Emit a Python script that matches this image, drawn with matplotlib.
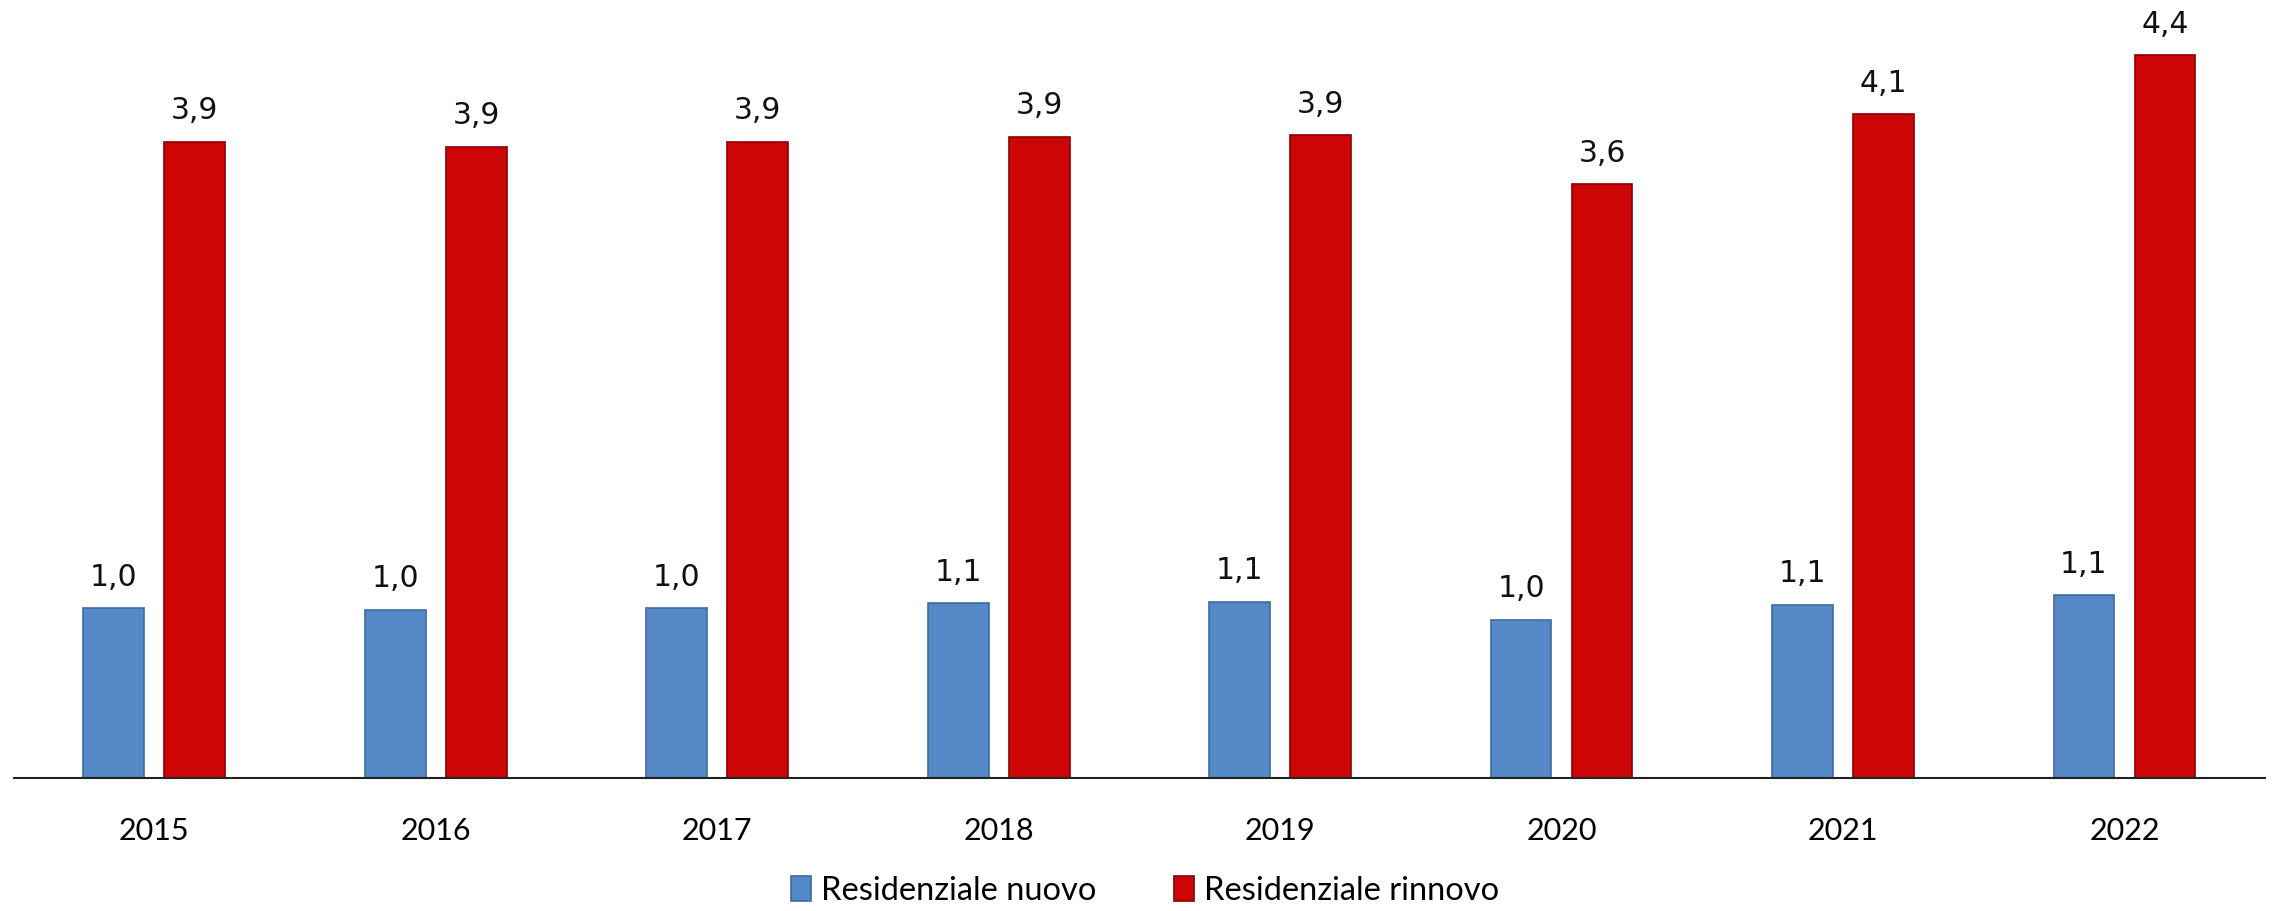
import matplotlib
matplotlib.use("Agg")
import matplotlib.pyplot as plt
import numpy as np

years = ["2015", "2016", "2017", "2018", "2019", "2020", "2021", "2022"]
nuovo = [1.04, 1.03, 1.04, 1.07, 1.08, 0.97, 1.06, 1.12]
rinnovo = [3.90, 3.87, 3.90, 3.93, 3.94, 3.64, 4.07, 4.43]
series_names = ["Residenziale nuovo", "Residenziale rinnovo"]

fig = plt.figure(figsize=(22.72, 9.11), dpi=100)
ax = fig.add_axes([0.006, 0.146, 0.991, 0.854])

x = np.arange(len(years))
w = 0.216
off = 0.144
b1 = ax.bar(x - off, nuovo, w, color="#5689C8", edgecolor="#3F6A9E", linewidth=1.2, label=series_names[0])
b2 = ax.bar(x + off, rinnovo, w, color="#CC0606", edgecolor="#8E0000", linewidth=1.2, label=series_names[1])

for bars in (b1, b2):
    for r in bars:
        v = r.get_height()
        ax.annotate(f"{v:.1f}".replace(".", ","), (r.get_x() + r.get_width() / 2, v),
                    xytext=(0, 12), textcoords="offset points", ha="center", va="bottom",
                    fontsize=21.5, family="DejaVu Sans", color="#111111")

ax.set_xlim(-0.5, len(years) - 0.5)
ax.set_ylim(0, 4.77)
ax.set_xticks(x)
ax.set_xticklabels(years, fontsize=22, family="Lato")
ax.tick_params(axis="x", length=0, pad=28)
ax.set_yticks([])
for s in ("top", "right", "left"):
    ax.spines[s].set_visible(False)
ax.spines["bottom"].set_linewidth(1.5)
ax.spines["bottom"].set_color("#222222")

leg = fig.legend(handles=[b1, b2], loc="center", bbox_to_anchor=(0.504, 0.022), ncol=2,
                 frameon=False, prop={"family": "Lato", "size": 23.5},
                 handlelength=0.6, handleheight=0.8, handletextpad=0.3, columnspacing=2.4)

fig.savefig("out.png", dpi=100)
